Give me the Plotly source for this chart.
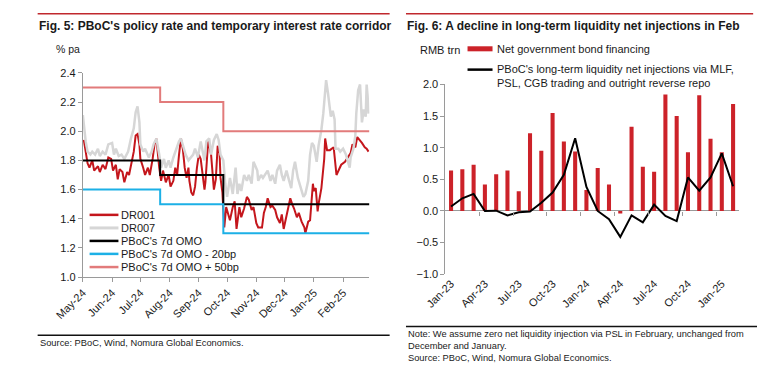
import plotly.graph_objects as go

# ---------------- data: Fig. 5 ----------------
dr001_dates = [
    "2024-05-02", "2024-05-04", "2024-05-06", "2024-05-08", "2024-05-11", "2024-05-13", "2024-05-17", "2024-05-19",
    "2024-05-22", "2024-05-25", "2024-05-28", "2024-05-31", "2024-06-02", "2024-06-05", "2024-06-07", "2024-06-09",
    "2024-06-12", "2024-06-14", "2024-06-17", "2024-06-19", "2024-06-22", "2024-06-24", "2024-06-26", "2024-06-28",
    "2024-06-30", "2024-07-01", "2024-07-04", "2024-07-06", "2024-07-09", "2024-07-11", "2024-07-14", "2024-07-16",
    "2024-07-18", "2024-07-19", "2024-07-21", "2024-07-23", "2024-07-25", "2024-07-28", "2024-07-31", "2024-08-02",
    "2024-08-05", "2024-08-07", "2024-08-09", "2024-08-11", "2024-08-13", "2024-08-15", "2024-08-17", "2024-08-19",
    "2024-08-21", "2024-08-22", "2024-08-24", "2024-08-26", "2024-08-28", "2024-08-30", "2024-09-01", "2024-09-03",
    "2024-09-05", "2024-09-07", "2024-09-08", "2024-09-10", "2024-09-11", "2024-09-14", "2024-09-16", "2024-09-17",
    "2024-09-19", "2024-09-21", "2024-09-23", "2024-09-24", "2024-09-26", "2024-09-27", "2024-09-28", "2024-09-30",
    "2024-10-04", "2024-10-07", "2024-10-09", "2024-10-11", "2024-10-14", "2024-10-16", "2024-10-19", "2024-10-22",
    "2024-10-24", "2024-10-27", "2024-10-29", "2024-11-01", "2024-11-03", "2024-11-07", "2024-11-09", "2024-11-11",
    "2024-11-13", "2024-11-16", "2024-11-18", "2024-11-21", "2024-11-23", "2024-11-26", "2024-11-28", "2024-11-30",
    "2024-12-03", "2024-12-05", "2024-12-07", "2024-12-09", "2024-12-11", "2024-12-14", "2024-12-16", "2024-12-19",
    "2024-12-22", "2024-12-23", "2024-12-26", "2024-12-28", "2024-12-31", "2025-01-01", "2025-01-03", "2025-01-05",
    "2025-01-06", "2025-01-09", "2025-01-12", "2025-01-13", "2025-01-15", "2025-01-18", "2025-01-22", "2025-01-25",
    "2025-01-28", "2025-01-30", "2025-02-03", "2025-02-06", "2025-02-09", "2025-02-11", "2025-02-14", "2025-02-16",
    "2025-02-19", "2025-02-21", "2025-02-24", "2025-02-26", "2025-02-28",
]
dr001_values = [
    1.94, 1.86, 1.78, 1.75, 1.80, 1.73, 1.76, 1.72,
    1.77, 1.74, 1.82, 1.81, 1.73, 1.77, 1.67, 1.74,
    1.72, 1.65, 1.72, 1.70, 1.80, 1.86, 1.97, 1.98,
    1.91, 1.81, 1.75, 1.70, 1.75, 1.70, 1.81, 1.91,
    1.95, 1.87, 1.75, 1.66, 1.73, 1.65, 1.70, 1.62,
    1.66, 1.75, 1.70, 1.84, 1.95, 1.88, 1.75, 1.68,
    1.75, 1.66, 1.58, 1.56, 1.62, 1.75, 1.84, 1.81,
    1.70, 1.60, 1.65, 1.84, 1.94, 1.84, 1.70, 1.60,
    1.67, 1.90, 1.85, 1.68, 1.58, 1.44, 1.34, 1.48,
    1.39, 1.48, 1.52, 1.33, 1.48, 1.41, 1.47, 1.55,
    1.53, 1.46, 1.48, 1.37, 1.34, 1.34, 1.44, 1.48,
    1.54, 1.48, 1.49, 1.46, 1.41, 1.37, 1.43, 1.33,
    1.43, 1.50, 1.54, 1.50, 1.47, 1.41, 1.44, 1.38,
    1.34, 1.30, 1.38, 1.39, 1.64, 1.59, 1.61, 1.45,
    1.50, 1.61, 1.81, 1.95, 1.87, 1.87, 1.89, 1.70,
    1.74, 1.77, 1.79, 1.82, 1.85, 1.91, 1.89, 1.96,
    1.94, 1.92, 1.89, 1.88, 1.86,
]

dr007_dates = [
    "2024-05-01", "2024-05-04", "2024-05-06", "2024-05-09", "2024-05-11", "2024-05-14", "2024-05-17", "2024-05-19",
    "2024-05-22", "2024-05-25", "2024-05-28", "2024-06-01", "2024-06-03", "2024-06-05", "2024-06-08", "2024-06-11",
    "2024-06-14", "2024-06-18", "2024-06-21", "2024-06-24", "2024-06-26", "2024-06-28", "2024-06-30", "2024-07-01",
    "2024-07-04", "2024-07-06", "2024-07-10", "2024-07-13", "2024-07-15", "2024-07-18", "2024-07-21", "2024-07-23",
    "2024-07-26", "2024-07-28", "2024-07-31", "2024-08-02", "2024-08-05", "2024-08-07", "2024-08-11", "2024-08-13",
    "2024-08-16", "2024-08-18", "2024-08-21", "2024-08-24", "2024-08-26", "2024-08-28", "2024-08-31", "2024-09-03",
    "2024-09-05", "2024-09-07", "2024-09-09", "2024-09-12", "2024-09-14", "2024-09-17", "2024-09-20", "2024-09-22",
    "2024-09-24", "2024-09-27", "2024-09-29", "2024-10-01", "2024-10-04", "2024-10-07", "2024-10-10", "2024-10-12",
    "2024-10-14", "2024-10-16", "2024-10-19", "2024-10-22", "2024-10-24", "2024-10-27", "2024-10-29", "2024-11-02",
    "2024-11-03", "2024-11-06", "2024-11-08", "2024-11-11", "2024-11-13", "2024-11-16", "2024-11-18", "2024-11-21",
    "2024-11-23", "2024-11-26", "2024-11-28", "2024-11-30", "2024-12-03", "2024-12-05", "2024-12-08", "2024-12-10",
    "2024-12-12", "2024-12-15", "2024-12-18", "2024-12-21", "2024-12-23", "2024-12-26", "2024-12-28", "2024-12-30",
    "2025-01-01", "2025-01-04", "2025-01-06", "2025-01-09", "2025-01-11", "2025-01-13", "2025-01-14", "2025-01-16",
    "2025-01-18", "2025-01-19", "2025-01-21", "2025-01-23", "2025-01-24", "2025-01-27", "2025-01-29", "2025-02-01",
    "2025-02-04", "2025-02-06", "2025-02-08", "2025-02-09", "2025-02-12", "2025-02-14", "2025-02-15", "2025-02-17",
    "2025-02-19", "2025-02-21", "2025-02-23", "2025-02-25", "2025-02-26", "2025-02-27", "2025-02-28",
]
dr007_values = [
    2.11, 1.93, 1.86, 1.84, 1.86, 1.84, 1.88, 1.83,
    1.86, 1.84, 1.91, 1.92, 1.84, 1.88, 1.83, 1.84,
    1.81, 1.86, 1.95, 2.02, 2.13, 2.17, 2.06, 1.91,
    1.86, 1.88, 1.82, 1.86, 1.91, 1.95, 1.84, 1.75,
    1.81, 1.75, 1.80, 1.75, 1.82, 1.86, 1.93, 1.95,
    1.88, 1.84, 1.80, 1.82, 1.84, 1.88, 1.82, 1.93,
    1.86, 1.80, 1.93, 1.95, 1.84, 1.94, 1.98, 1.94,
    1.84, 1.80, 1.64, 1.55, 1.68, 1.57, 1.75, 1.57,
    1.64, 1.59, 1.70, 1.66, 1.70, 1.64, 1.79, 1.73,
    1.66, 1.70, 1.68, 1.71, 1.73, 1.66, 1.70, 1.64,
    1.73, 1.77, 1.70, 1.66, 1.73, 1.68, 1.61, 1.73,
    1.79, 1.68, 1.61, 1.55, 1.57, 1.66, 1.84, 1.92,
    1.90, 1.79, 1.90, 2.01, 2.12, 2.28, 2.35, 2.26,
    2.12, 2.10, 2.14, 2.08, 1.88, 1.88, 1.86, 1.88,
    1.84, 1.79, 1.75, 1.82, 1.88, 1.97, 2.12, 2.28,
    2.32, 2.06, 2.15, 2.10, 2.32, 2.24, 2.12,
]

policy_dates = ["2024-05-01", "2024-07-22", "2024-09-27", "2025-02-28 23:00"]
omo_7d = [1.80, 1.70, 1.50, 1.50]
omo_minus_20bp = [1.60, 1.50, 1.30, 1.30]
omo_plus_50bp = [2.30, 2.20, 2.00, 2.00]

# ---------------- data: Fig. 6 ----------------
months = [
    "Jan-23", "Feb-23", "Mar-23", "Apr-23", "May-23", "Jun-23", "Jul-23", "Aug-23", "Sep-23", "Oct-23", "Nov-23", "Dec-23",
    "Jan-24", "Feb-24", "Mar-24", "Apr-24", "May-24", "Jun-24", "Jul-24", "Aug-24", "Sep-24", "Oct-24", "Nov-24", "Dec-24",
    "Jan-25", "Feb-25",
]
gov_bond_financing = [
    0.64, 0.66, 0.73, 0.42, 0.58, 0.64, 0.31, 1.23, 0.95, 1.55, 1.10, 0.94,
    0.33, 0.68, 0.42, -0.04, 1.33, 0.70, 0.62, 1.84, 1.50, 0.93, 1.83, 1.14,
    0.93, 1.69,
]
pboc_long_term = [
    0.07, 0.20, 0.27, 0.00, 0.005, -0.07, -0.02, -0.01, 0.13, 0.29, 0.57, 1.15,
    0.38, 0.00, -0.13, -0.41, -0.07, -0.18, 0.10, -0.08, -0.16, 0.53, 0.32, 0.53,
    0.91, 0.39,
]

# ---------------- styling ----------------
W, H = 757, 379
FONT = "Liberation Sans, Arial, sans-serif"
TXT = "#1a1a1a"
AX = "#9a9a9a"
C_DR001 = "#c4161c"
C_DR007 = "#d6d6d6"
C_OMO = "#000000"
C_LOW = "#1cb0e6"
C_UP = "#e27b7b"
C_BAR = "#cc2229"
C_RULE = "#c0282d"


def fx(x):
    return x / W


def fy(y):
    return 1 - y / H


fig = go.Figure()

fig.add_trace(go.Scatter(x=dr001_dates, y=dr001_values, mode="lines", name="DR001",
                         line=dict(color=C_DR001, width=2), xaxis="x", yaxis="y"))
fig.add_trace(go.Scatter(x=dr007_dates, y=dr007_values, mode="lines", name="DR007",
                         line=dict(color=C_DR007, width=2.5), xaxis="x", yaxis="y"))
fig.add_trace(go.Scatter(x=policy_dates, y=omo_7d, mode="lines", name="PBoC's 7d OMO",
                         line=dict(color=C_OMO, width=2, shape="hv"), xaxis="x", yaxis="y"))
fig.add_trace(go.Scatter(x=policy_dates, y=omo_minus_20bp, mode="lines", name="PBoC's 7d OMO - 20bp",
                         line=dict(color=C_LOW, width=2, shape="hv"), xaxis="x", yaxis="y"))
fig.add_trace(go.Scatter(x=policy_dates, y=omo_plus_50bp, mode="lines", name="PBoC's 7d OMO + 50bp",
                         line=dict(color=C_UP, width=2, shape="hv"), xaxis="x", yaxis="y"))

fig.add_trace(go.Bar(x=months, y=gov_bond_financing, name="Net government bond financing",
                     marker=dict(color=C_BAR, line=dict(width=0)), width=0.36, xaxis="x2", yaxis="y2"))
fig.add_trace(go.Scatter(x=months, y=pboc_long_term, mode="lines", name="PBoC long-term",
                         line=dict(color="#000000", width=2), xaxis="x2", yaxis="y2"))
# carrier for the tick marks on the zero line
fig.add_trace(go.Scatter(x=[None], y=[None], mode="lines", xaxis="x3", yaxis="y2", hoverinfo="skip"))

tickfont = dict(family=FONT, size=11, color=TXT)

y2_dom = [fy(277), fy(81)]
y2_range = [-1.0, 2.0]
zero_pos = y2_dom[0] + (y2_dom[1] - y2_dom[0]) * (0 - y2_range[0]) / (y2_range[1] - y2_range[0])
n = len(months)

fig.update_layout(
    width=W, height=H,
    margin=dict(l=0, r=0, t=0, b=0),
    paper_bgcolor="white", plot_bgcolor="white",
    showlegend=False,
    hovermode=False,
    font=dict(family=FONT, color=TXT),
    xaxis=dict(domain=[fx(56), fx(354)], anchor="y", type="date",
               range=["2024-05-01", "2025-02-28 23:00"], dtick="M1", tick0="2024-05-01",
               tickformat="%b-%y", tickangle=-45, ticks="outside", ticklen=4, tickcolor=AX,
               showline=True, linecolor=AX, linewidth=1, showgrid=False, zeroline=False,
               tickfont=tickfont),
    yaxis=dict(domain=[fy(280), fy(69)], anchor="x", range=[1.0, 2.4], dtick=0.2, tick0=1.0,
               tickformat=".1f", ticks="outside", ticklen=4, tickcolor=AX,
               showline=True, linecolor=AX, linewidth=1, showgrid=False, zeroline=False,
               tickfont=tickfont),
    xaxis2=dict(domain=[fx(433), fx(738)], anchor="y2", type="category", categoryarray=months,
                range=[-0.5, n - 0.5], tickmode="array", tickvals=months[::3], ticktext=months[::3],
                tickangle=-45, ticks="", showline=False, showgrid=False, zeroline=False,
                tickfont=tickfont),
    yaxis2=dict(domain=y2_dom, anchor="x2", range=y2_range, dtick=0.5, tick0=0,
                tickformat=".1f", ticks="outside", ticklen=4, tickcolor=AX,
                showline=True, linecolor=AX, linewidth=1, showgrid=False,
                zeroline=True, zerolinecolor=AX, zerolinewidth=1, tickfont=tickfont),
    xaxis3=dict(overlaying="x2", anchor="free", position=zero_pos, side="bottom",
                range=[-0.5, n - 0.5], tickmode="array",
                tickvals=[i - 0.5 for i in range(3, n, 3)],
                ticks="outside", ticklen=4, tickcolor=AX, showticklabels=False,
                showline=False, showgrid=False, zeroline=False),
)

shapes = []
annos = []


def text(x, y, s, size=11, bold=False, anchor="left"):
    annos.append(dict(x=fx(x), y=fy(y), xref="paper", yref="paper", text=("<b>%s</b>" % s) if bold else s,
                      showarrow=False, xanchor=anchor, yanchor="middle", align="left",
                      font=dict(family=FONT, size=size, color=TXT)))


def hline(x0, x1, y, color, width):
    shapes.append(dict(type="line", xref="paper", yref="paper", x0=fx(x0), x1=fx(x1), y0=fy(y), y1=fy(y),
                       line=dict(color=color, width=width)))


# top rules
hline(9, 375, 8, C_RULE, 1.5)
hline(392, 753, 8, C_RULE, 1.5)
# titles
text(8, 21, "Fig. 5: PBoC's policy rate and temporary interest rate corridor", size=12, bold=True)
text(391, 21, "Fig. 6: A decline in long-term liquidity net injections in Feb", size=12, bold=True)
# units
text(26, 44, "% pa", size=10.5)
text(404, 45, "RMB trn", size=11)

# left legend
leg = [("DR001", C_DR001, 2.5), ("DR007", C_DR007, 3), ("PBoC's 7d OMO", C_OMO, 2.5),
       ("PBoC's 7d OMO - 20bp", C_LOW, 2.5), ("PBoC's 7d OMO + 50bp", C_UP, 2.5)]
leg_y = [215.7, 229.2, 242.6, 256.0, 269.6]
for (lab, col, wd), yy in zip(leg, leg_y):
    hline(63, 93, yy, col, wd)
    text(94, yy, lab, size=11)

# right legend
shapes.append(dict(type="rect", xref="paper", yref="paper", x0=fx(456), x1=fx(482), y0=fy(46.8), y1=fy(41.6),
                   fillcolor=C_BAR, line=dict(width=0)))
text(485, 44.5, "Net government bond financing", size=11)
hline(456, 482, 65.7, "#000000", 2.5)
text(485, 65.5, "PBoC's long-term liquidity net injections via MLF,", size=11)
text(485, 79.2, "PSL, CGB trading and outright reverse repo", size=11)

# bottom rules and sources
hline(9, 375, 340, "#111111", 1.5)
text(9, 348.5, "Source: PBoC, Wind, Nomura Global Economics.", size=9.3)
hline(392, 757, 331, "#111111", 1.5)
text(392, 338.5, "Note: We assume zero net liquidity injection via PSL in February, unchanged from", size=9.3)
text(392, 351, "December and January.", size=9.3)
text(392, 363.5, "Source: PBoC, Wind, Nomura Global Economics.", size=9.3)

fig.update_layout(shapes=shapes, annotations=annos)

fig.write_html("out.html", config={"displayModeBar": False, "staticPlot": True},
               post_script="document.body.style.margin='0';")
